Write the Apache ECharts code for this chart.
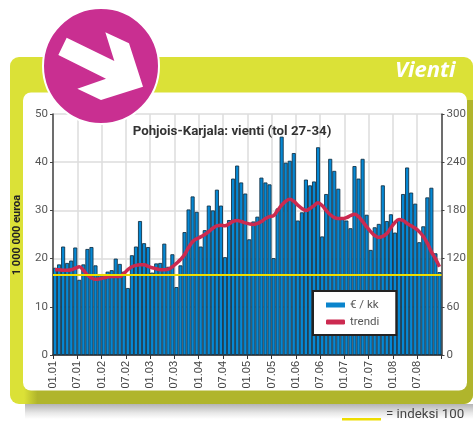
<!DOCTYPE html>
<html><head><meta charset="utf-8">
<style>html,body{margin:0;padding:0;background:#fff}#c{width:473px;height:422px}</style>
<script src="https://cdn.jsdelivr.net/npm/echarts@6/dist/echarts.min.js"></script></head>
<body><div id="c"></div>
<script>
const tickLabels=['01.01','07.01','01.02','07.02','01.03','07.03','01.04','07.04','01.05','07.05','01.06','07.06','01.07','07.07','01.08','07.08'];
const months=[];for(let y=1;y<=8;y++)for(let m=1;m<=12;m++)months.push((m<10?'0':'')+m+'.0'+y);
const exportValues=[18.1,18.8,22.5,19.1,19.6,22.3,15.6,18.8,22,22.4,18.6,16.6,
16.8,17.3,17.6,20,18.9,17.3,13.9,20.7,22.5,27.8,23.2,22.4,
17.1,19,19.1,23.1,18.3,20.9,14.1,18.6,25.5,30.2,32.9,29.7,
22.5,25.9,31,30,34.3,31,20.3,28,36.6,39.3,35.8,33.5,
24,27.7,28.7,36.8,35.8,35.4,20.1,30.4,45.3,39.9,40.3,41.9,
27.9,29.6,36.4,35.2,36,43.1,24.6,33.4,40.7,38.2,34.5,28.3,
27.9,26.3,39.2,36.6,40.7,29.1,21.8,26.5,27.2,35.2,27.8,29.2,
25.4,28,33.4,38.9,33.7,31.4,23.4,26.7,32.7,34.7,21.1,17.2];
const trendValues=[17.7,17.7,17.6,17.6,17.7,18,18.3,17.6,16.6,16,15.7,15.8,
16,16.2,16.3,16.3,16.3,16.9,17.7,18.3,18.6,18.7,18.7,18.4,
18.1,17.9,17.7,17.7,17.8,18.3,19,19.8,20.8,22.3,23.5,24.1,
24.5,25,25.6,26.3,26.8,26.9,26.8,27.2,27.7,27.9,27.7,27.4,
27.2,27.1,27.3,27.7,28.3,28.7,28.9,30,31.1,31.9,32.3,31.9,
31.1,30.4,30,30.4,31,31.6,31,30,29.1,28.5,28.3,28.3,
28.5,28.9,29.2,28.7,27.7,26.6,25.6,24.8,24.4,24.6,25.2,26.4,
27.5,28.1,27.9,27.3,26.8,26.3,25.6,24.6,23.2,21.4,20,18.3];
const index100=100;
const arrowPts=[[200,113],[343,183],[316,97],[387,130],[429,260],[303,300],[232,266],[318,236],[175,165]].map(p=>[p[0]/3,p[1]/3]);
const narrow='Roboto,sans-serif';
const chart=echarts.init(document.getElementById('c'),null,{renderer:'canvas'});
chart.setOption({
 animation:false,
 grid:{left:53,right:31.5,top:114,bottom:67,containLabel:false},
 title:{text:'Pohjois-Karjala: vienti (tol 27-34)',left:227,top:120,textAlign:'center',
  textStyle:{fontFamily:narrow,fontWeight:'bold',fontSize:13.3,color:'#333'}},
 legend:{left:313,top:291,orient:'vertical',padding:[8,17,7,13],itemGap:5,itemWidth:19,itemHeight:5,
  backgroundColor:'#fff',borderColor:'#222',borderWidth:2,align:'left',
  textStyle:{fontFamily:narrow,fontSize:11.5,color:'#555'},
  data:[{name:'€ / kk',icon:'rect',itemStyle:{color:'#0a84cc',borderWidth:0}},{name:'trendi',icon:'roundRect',itemStyle:{color:'#cc2a50'}}]},
 xAxis:[
  {type:'category',data:months,show:false,boundaryGap:true},
  {type:'value',min:0,max:96,interval:6,position:'bottom',
   axisLine:{show:true,lineStyle:{color:'#222',width:1.5}},
   axisTick:{show:true,length:4,lineStyle:{color:'#333'}},
   splitLine:{show:true,lineStyle:{color:'#ddd',width:1.5}},
   axisLabel:{rotate:90,margin:6,fontFamily:'"Liberation Sans",sans-serif',fontSize:11,color:'#444',showMaxLabel:true,
    formatter:v=>tickLabels[v/6]||''}}
 ],
 yAxis:[
  {type:'value',min:0,max:50,interval:10,position:'left',
   axisLine:{show:true,lineStyle:{color:'#444',width:1.5}},
   axisTick:{show:true,length:3,lineStyle:{color:'#444'}},
   splitLine:{show:true,lineStyle:{color:'#ddd',width:1.5}},
   axisLabel:{margin:5,padding:[3,0,0,0],fontFamily:narrow,fontSize:11.5,color:'#555'}},
  {type:'value',min:0,max:300,interval:60,position:'right',
   axisLine:{show:true,lineStyle:{color:'#444',width:1.5}},
   axisTick:{show:true,length:3,lineStyle:{color:'#444'}},
   splitLine:{show:false},
   axisLabel:{margin:5,padding:[3,0,0,0],fontFamily:narrow,fontSize:11.5,color:'#555'}}
 ],
 series:[
  {name:'€ / kk',type:'bar',xAxisIndex:0,yAxisIndex:0,data:exportValues,barWidth:'100%',barCategoryGap:'0%',z:2,
   itemStyle:{color:'#0588d4',borderColor:'#14344a',borderWidth:0.9}},
  {name:'trendi',type:'line',xAxisIndex:0,yAxisIndex:0,data:trendValues,smooth:0.4,symbol:'none',z:3,
   lineStyle:{color:'#cc2a50',width:3.5},itemStyle:{color:'#cc2a50'}},
  {name:'indeksi',type:'line',xAxisIndex:0,yAxisIndex:1,data:[],symbol:'none',z:4,
   markLine:{silent:true,symbol:'none',label:{show:false},animation:false,z:4,
    lineStyle:{color:'#eedd00',width:2,type:'solid'},data:[{yAxis:index100}]}}
 ],
 graphic:[
  {type:'rect',z:-20,shape:{x:25,y:404,width:448,height:15},style:{fill:new echarts.graphic.LinearGradient(0,0,0,1,[{offset:0,color:'#b4b4b4'},{offset:0.6,color:'#e8e8e8'},{offset:1,color:'#ffffff'}])}},
  {type:'rect',z:-19,shape:{x:10,y:57,width:463,height:347,r:9},style:{fill:'#dbe137'}},
  {type:'rect',z:-18,shape:{x:24,y:100,width:449,height:304,r:[0,0,9,0]},style:{fill:new echarts.graphic.LinearGradient(0,0,1,0,[{offset:0,color:'#dbe137'},{offset:0.03,color:'#b0b52c'},{offset:1,color:'#b0b52c'}])}},
  {type:'rect',z:-17,shape:{x:23,y:92.5,width:444,height:298,r:8},style:{fill:'#fff'}},
  {type:'text',z:50,style:{x:395,y:60,text:'Vienti',fill:'#fff',font:'italic bold 22px "Open Sans",sans-serif'}},
  {type:'circle',z:60,shape:{cx:101,cy:66,r:58},style:{fill:'#c92f91',stroke:'#fff',lineWidth:2}},
  {type:'polygon',z:61,shape:{points:arrowPts},style:{fill:'#fff'}},
  {type:'text',z:50,x:17,y:235,rotation:Math.PI/2,style:{text:'1 000 000 euroa',fill:'#222',align:'center',verticalAlign:'middle',font:'bold 11px Roboto,sans-serif'}},
  {type:'rect',z:50,shape:{x:342,y:418,width:39,height:2.5},style:{fill:'#eedd00'}},
  {type:'text',z:50,style:{x:386,y:408,text:'= indeksi 100',fill:'#444',font:'13.3px Roboto,sans-serif'}}
 ]
});
</script></body></html>
